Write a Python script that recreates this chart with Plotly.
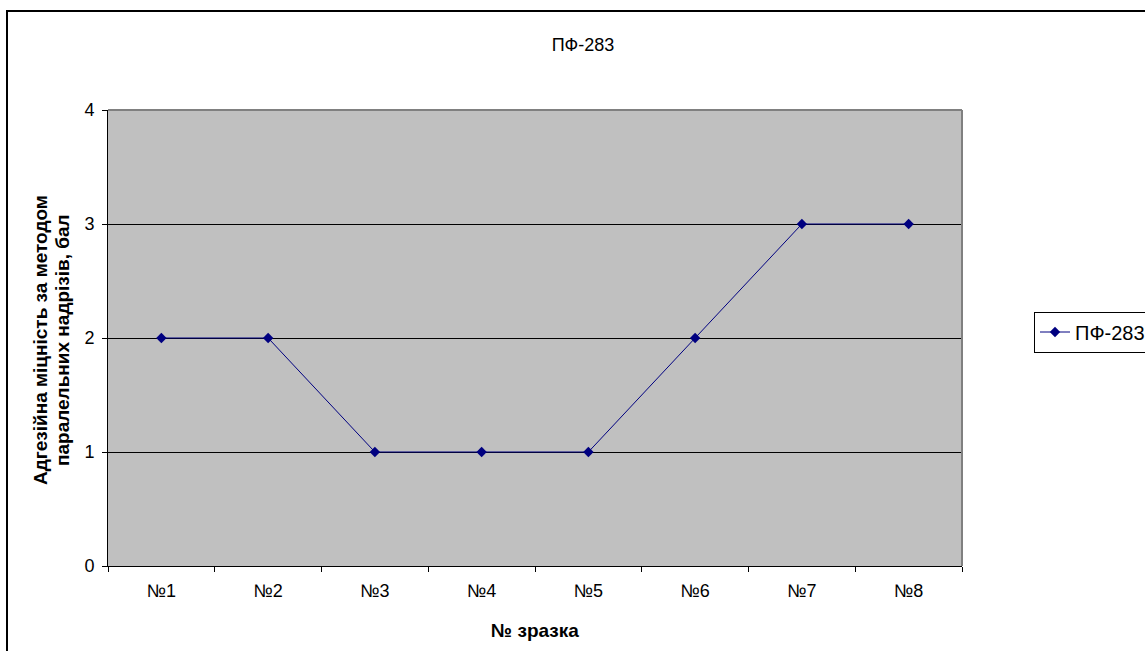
import plotly.graph_objects as go

# Sample labels and adhesion scores (parallel-cut method)
samples = ["№1", "№2", "№3", "№4", "№5", "№6", "№7", "№8"]
scores = [2, 2, 1, 1, 1, 2, 3, 3]
series_name = "ПФ-283"
y_title_lines = ["Адгезійна міцність за методом", "паралельних надрізів, бал"]
x_title = "№ зразка"

W, H = 1145, 651
L, R, T, B = 108, 962, 110, 566  # plot-area edges in pixels
pw, ph = R - L, B - T

FS = 18      # regular text
FS_B = 19    # bold axis titles
FS_LEG = 20  # legend text
FAMILY = "Liberation Sans, Arial, sans-serif"
font = dict(family=FAMILY, size=FS, color="black")

fig = go.Figure()
fig.add_trace(go.Scatter(
    x=samples, y=scores, name=series_name, mode="lines+markers",
    line=dict(color="#000080", width=1),
    marker=dict(symbol="diamond", size=8, color="#000080"),
    showlegend=True,
))

def px(x):
    return (x - L) / pw

def py(y):
    return (B - y) / ph

shapes = [
    # outer chart border (extends beyond the visible page on right/bottom)
    dict(type="rect", xref="paper", yref="paper",
         x0=px(7), x1=px(1160), y0=py(11), y1=py(665),
         line=dict(color="black", width=2), fillcolor="rgba(0,0,0,0)", layer="below"),
    # plot-area frame (top/right grey)
    dict(type="line", xref="paper", yref="paper", x0=0, x1=1, y0=1, y1=1,
         line=dict(color="#808080", width=2)),
    dict(type="line", xref="paper", yref="paper", x0=1, x1=1, y0=0, y1=1,
         line=dict(color="#808080", width=2)),
]

# y-axis title as two rotated lines
annotations = [
    dict(text=f"<b>{line}</b>", xref="paper", yref="paper",
         x=px(xc), y=py(340), xanchor="center", yanchor="middle",
         textangle=-90, showarrow=False, font=dict(size=FS_B))
    for line, xc in zip(y_title_lines, [40, 62])
]
# x-axis title
annotations.append(dict(text=f"<b>{x_title}</b>", xref="paper", yref="paper",
                        x=0.5, y=py(630), xanchor="center", yanchor="middle",
                        showarrow=False, font=dict(size=FS_B)))

fig.update_layout(
    width=W, height=H,
    margin=dict(l=L, r=W - R, t=T, b=H - B, autoexpand=False),
    paper_bgcolor="white",
    plot_bgcolor="#C0C0C0",
    font=font,
    title=dict(text=series_name, x=583 / W, xanchor="center",
               y=1 - 45 / H, yanchor="middle", font=dict(size=FS)),
    xaxis=dict(
        type="category", range=[-0.5, 7.5], tickson="boundaries",
        ticks="outside", ticklen=5, tickcolor="black", tickwidth=1,
        showline=True, linecolor="black", linewidth=1, showgrid=False,
        tickfont=dict(size=FS), ticklabelstandoff=8, automargin=False,
    ),
    yaxis=dict(
        range=[0, 4], dtick=1, tick0=0,
        ticks="outside", ticklen=5, tickcolor="black", tickwidth=1,
        showline=True, linecolor="black", linewidth=1,
        showgrid=True, gridcolor="black", gridwidth=1,
        zeroline=False, tickfont=dict(size=FS), ticklabelstandoff=4,
        automargin=False,
    ),
    legend=dict(
        x=px(1034), xanchor="left", y=py(332), yanchor="middle",
        bgcolor="white", bordercolor="black", borderwidth=1,
        font=dict(size=FS_LEG), itemwidth=30,
    ),
    annotations=annotations,
    shapes=shapes,
)

fig.write_html("out.html")
